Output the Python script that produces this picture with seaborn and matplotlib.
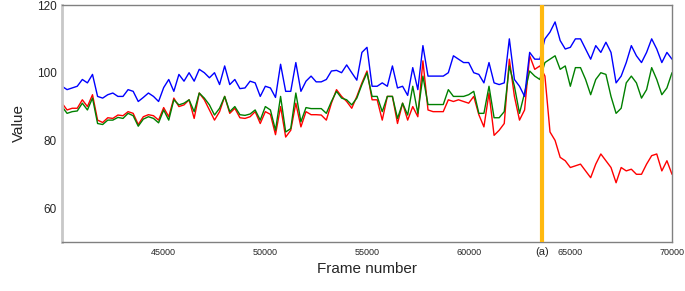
import numpy as np
import pandas as pd
import matplotlib
matplotlib.use("Agg")
import matplotlib.pyplot as plt
import seaborn as sns

frames = list(range(40000, 70001, 250))

blue_vals = [
    96, 95, 95.5, 96, 98, 97, 99.5, 93, 92.5, 93.5, 94, 93, 93, 95, 94.5, 91.5, 92.7, 94, 93, 91.5, 95.6,
    98, 94.5, 99.5, 97.5, 100, 97.5, 101, 100, 98.5, 100, 96.5, 102, 96.5, 98, 95.3, 95.5, 97.5, 97, 93, 96,
    95.5, 92.7, 102.5, 94.5, 94.5, 103, 94.5, 97.5, 99, 97.3, 97.3, 98, 100.5, 100.7, 100, 102.3, 100, 97.8, 106, 107.5,
    96, 96, 97, 96, 102, 95.5, 96, 93.3, 101.5, 95, 108, 99, 99, 99, 99, 100, 105, 104, 103, 103,
    100, 99.5, 97, 103, 97, 96.5, 97, 110, 98, 96, 93, 106, 104, 104, 110, 112, 115, 109.5, 107, 107.5,
    110, 110, 107, 104, 108, 106, 109, 106, 97, 99, 103, 108, 105, 103, 106, 110, 107, 103, 106, 104,
]

red_vals = [
    91, 89, 89.5, 89.5, 92, 90, 93.5, 86, 85.3, 86.7, 86.5, 87.5, 87.3, 88.5, 88, 84.7, 87, 87.6, 87.3, 86, 89.7,
    87, 92.5, 90, 90.5, 92, 86.5, 94, 92, 89, 86, 88.5, 93, 88, 89.5, 86.7, 86.5, 87, 88.5, 85, 88.5,
    87.7, 81.7, 90, 81, 83, 91, 84, 88.5, 87.6, 87.6, 87.5, 86, 91, 95, 93, 91.5, 89.5, 93, 97, 100.5,
    92, 92, 86, 93, 93, 85, 91, 86, 90, 87, 103.5, 89, 88.5, 88.5, 88.5, 92, 91.5, 92, 91.5, 91,
    93, 87.6, 84, 94, 81.5, 83, 85, 104, 93, 86, 89, 105, 101, 102, 99, 82.5, 80, 75, 74, 72,
    72.5, 73, 71, 69, 73, 76, 74, 72, 67.5, 72, 71, 71.5, 70, 70, 73, 75.5, 76, 71, 74, 70,
]

green_vals = [
    90, 88, 88.5, 88.7, 91, 89, 92.5, 85, 84.7, 86, 86, 86.8, 86.5, 88, 87.3, 84.2, 86.3, 87, 86.5, 85.2, 89,
    86, 92, 90.5, 91, 92, 88.5, 94, 92.5, 90.5, 87.5, 89.5, 93, 88.5, 90, 87.6, 87.4, 87.8, 89, 86, 90,
    89, 83, 93, 82.5, 83.5, 94, 85.5, 89.7, 89.4, 89.4, 89.4, 88, 91.5, 94.5, 92.5, 92, 90.5, 92.5, 96.5, 100,
    93, 93, 88.5, 93, 93, 86.5, 91, 87.5, 96, 88, 99, 90.6, 90.6, 90.6, 90.6, 95, 93, 93, 93, 93.5,
    94.5, 88, 88, 96, 86.7, 86.7, 88.5, 102, 96, 88, 94, 100.5, 99, 98, 103, 104, 105, 101, 102, 96,
    101.5, 101.5, 98, 93.5, 98, 100, 99.5, 93, 88, 89.5, 97, 99, 97, 92.5, 95, 101.5, 98, 93.5, 95.5, 100,
]

event_frame = 63600
event_label = "(a)"
x_ticks = [45000, 50000, 55000, 60000, 65000, 70000]
y_ticks = [60, 80, 100, 120]

sns.set_style("white")
plt.rcParams["font.family"] = ["Liberation Sans", "DejaVu Sans"]

df = pd.concat([
    pd.DataFrame({"frame": frames, "value": red_vals, "series": "red"}),
    pd.DataFrame({"frame": frames, "value": green_vals, "series": "green"}),
    pd.DataFrame({"frame": frames, "value": blue_vals, "series": "blue"}),
])

fig = plt.figure(figsize=(6.85, 2.91), dpi=100)
ax = fig.add_axes([62 / 685, 1 - 242 / 291, 610 / 685, 237 / 291])

sns.lineplot(data=df, x="frame", y="value", hue="series",
             palette={"red": "#FF0000", "green": "#008000", "blue": "#0000FF"},
             linewidth=1.0, legend=False, ax=ax, estimator=None)

ax.axvline(event_frame, color="#FFB90F", linewidth=3.0, zorder=5)

ax.set_xlim(40000, 70000)
ax.set_ylim(50, 120)
ax.set_xticks(x_ticks)
ax.set_xticklabels([str(t) for t in x_ticks], fontsize=6.5)
ax.set_yticks(y_ticks)
ax.set_yticklabels([str(t) for t in y_ticks], fontsize=8.5)
ax.tick_params(length=0, pad=4)
ax.set_xlabel("Frame number", fontsize=11, labelpad=4)
ax.set_ylabel("Value", fontsize=11, labelpad=8)
ax.text(event_frame, -0.022, event_label, transform=ax.get_xaxis_transform(),
        ha="center", va="top", fontsize=8)

for s in ["top", "bottom", "right"]:
    ax.spines[s].set_color("#808080")
    ax.spines[s].set_linewidth(1.0)
ax.spines["left"].set_color("#C8C8C8")
ax.spines["left"].set_linewidth(2.0)

fig.savefig("out.png", dpi=100)
